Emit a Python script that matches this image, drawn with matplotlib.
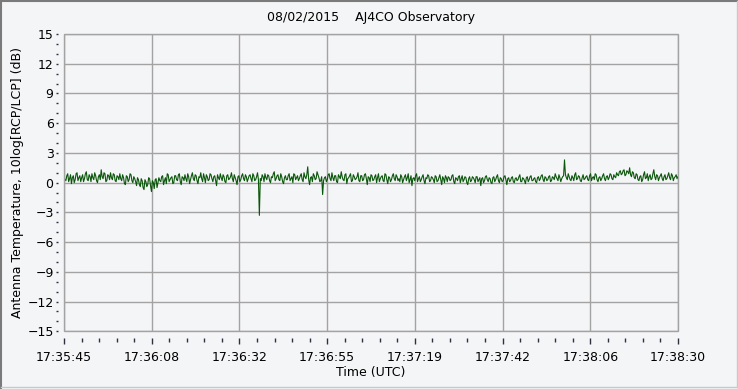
import numpy as np
import matplotlib
matplotlib.use("Agg")
import matplotlib.pyplot as plt
from matplotlib.lines import Line2D
from matplotlib.patches import Rectangle

# chart text
title = "08/02/2015    AJ4CO Observatory"
x_label = "Time (UTC)"
y_label = "Antenna Temperature, 10log[RCP/LCP] (dB)"
time_labels = ["17:35:45", "17:36:08", "17:36:32", "17:36:55",
               "17:37:19", "17:37:42", "17:38:06", "17:38:30"]
y_ticks = [-15, -12, -9, -6, -3, 0, 3, 6, 9, 12, 15]

# seconds after 17:35:45, samples every 0.25 s
span_s = 165.0
step_s = 0.25

# dB: samples on the whole half-second
ratio_db = [
    0.6, 0.2, 0.9, 0.4, -0.1, 0.7, 0.3, 1.0, 0.5, 0.1, 0.8, 0.4, 1.1, 0.2, 0.6, 0.9, 0.3, 0.7, 0.0, 0.8,
    1.3, 0.4, 0.9, 0.2, 0.7, 1.0, 0.3, 0.8, 0.1, 0.6, 0.9, 0.2, 0.5, -0.2, 0.6, 0.3, 0.8, 0.0, 0.4, -0.3,
    0.3, -0.4, 0.2, -0.7, 0.1, -0.2, 0.4, -0.9, 0.0, 0.3, -0.5, 0.5, 0.1, 0.7, 0.2, -0.1, 0.8, 0.3, 0.6, 0.0,
    0.7, 0.2, 0.9, -0.2, 0.5, 0.8, 0.1, 0.6, 0.3, 1.0, 0.2, 0.7, -0.1, 0.5, 0.4, 0.9, 0.0, 0.6, 0.3, 0.8,
    0.1, 0.7, -0.3, 0.5, 0.9, 0.2, 0.6, 0.0, 0.8, 0.4, 1.0, 0.1, 0.5, -0.2, 0.7, 0.3, 0.9, 0.2, 0.6, 0.4,
    0.8, 0.1, 0.7, 0.3, 1.0, -3.3, 0.2, 0.6, 0.9, 0.3, 0.7, 0.0, 0.5, 1.1, 0.4, 0.8, 0.2, 0.6, -0.1, 0.7,
    0.3, 0.9, 0.4, 0.0, 0.8, 0.5, 0.2, 0.7, 0.3, 1.0, 0.4, 1.6, -0.2, 0.6, 0.9, 0.3, 1.1, 0.5, 0.2, -1.2,
    0.5, 0.1, 0.8, 0.4, 1.0, 0.2, 0.7, 0.0, 0.6, 1.1, 0.3, 0.8, -0.1, 0.5, 0.9, 0.2, 0.6, 0.4, 1.0, 0.1,
    0.7, 0.3, 0.9, -0.2, 0.5, 0.8, 0.2, 0.6, 0.0, 0.9, 0.4, 0.7, 0.1, 0.8, -0.1, 0.5, 0.3, 0.9, 0.2, 0.6,
    0.4, 0.8, 0.0, 0.6, 0.2, 0.9, 0.3, -0.3, 0.5, 0.7, 0.1, 0.6, 0.3, 0.8, -0.1, 0.4, 0.7, 0.2, 0.5, 0.0,
    0.6, 0.2, 0.8, -0.2, 0.4, 0.7, 0.1, 0.5, 0.3, 0.8, -0.1, 0.4, 0.6, 0.0, 0.7, 0.3, 0.5, -0.2, 0.6, 0.2,
    0.5, 0.0, 0.6, 0.3, -0.3, 0.5, 0.2, 0.7, 0.1, 0.4, -0.1, 0.6, 0.3, 0.8, 0.0, 0.4, 0.2, 0.7, -0.2, 0.5,
    0.2, 0.6, 0.0, 0.5, 0.3, 0.8, 0.1, 0.4, -0.1, 0.6, 0.3, 0.7, 0.2, 0.5, 0.0, 0.6, 0.4, 0.8, 0.1, 0.5,
    0.3, 0.7, 0.2, 0.5, 0.9, 0.4, 0.8, 0.1, 0.6, 2.3, 0.5, 0.9, 0.3, 0.7, 0.2, 1.0, 0.4, 0.6, 0.1, 0.8,
    0.4, 0.7, 0.2, 0.9, 0.5, 0.3, 0.8, 0.1, 0.6, 0.4, 0.9, 0.2, 0.7, 0.5, 0.8, 0.3, 0.6, 1.0, 0.7, 1.2,
    0.9, 1.3, 0.8, 1.1, 1.5, 0.6, 1.0, 0.4, 0.8, 0.2, 0.7, 0.3, 1.1, 0.5, 0.2, 0.8, 0.4, 1.3, 0.3, 0.7,
    0.5, 0.9, 0.2, 0.8, 0.4, 1.0, 0.3, 0.7, 0.5, 0.8, 0.6,
]

# samples in between (quarter seconds)
ratio_db_mid = [
    0.3, 0.7, 0.1, 0.8, 0.5, 0.0, 0.9, 0.2, 0.7, 0.5, 0.1, 0.9, 0.3, 0.8, 0.1, 0.5, 1.0, 0.2, 0.6, 0.3,
    0.6, 1.0, 0.1, 0.8, 0.3, 0.5, 0.9, 0.2, 0.7, 0.3, 0.4, 0.8, -0.1, 0.7, 0.1, 0.9, 0.2, 0.6, 0.1, 0.5,
    -0.2, 0.4, -0.5, 0.3, -0.4, 0.5, -0.3, 0.2, -0.6, 0.4, 0.0, 0.2, 0.6, -0.2, 0.5, 0.9, 0.1, 0.5, -0.1, 0.7,
    0.3, 0.8, 0.1, 0.6, 0.2, 0.4, 0.9, -0.1, 0.7, 0.4, 0.8, 0.2, 0.6, 1.0, 0.1, 0.5, 0.8, 0.2, 0.9, 0.4,
    0.6, 0.2, 0.8, 0.3, 0.5, 0.8, 0.1, 0.7, 0.3, 0.6, 0.4, 0.8, 0.2, 0.6, 0.1, 0.7, 0.4, 0.8, 0.1, 0.7,
    0.4, 0.9, 0.2, 0.6, 0.3, 0.4, 0.8, 0.1, 0.5, 0.8, 0.2, 0.6, 0.9, 0.2, 0.7, 0.3, 0.9, 0.1, 0.5, 0.3,
    0.7, 0.2, 0.6, 0.9, 0.3, 0.7, 0.4, 0.9, 0.1, 0.6, 0.8, 0.3, 0.5, 0.1, 0.7, 0.4, 0.8, 0.1, 0.6, 0.2,
    0.6, 0.3, 0.9, 0.2, 0.5, 0.7, 0.1, 0.8, 0.4, 0.6, 0.2, 0.9, 0.4, 0.7, 0.1, 0.8, 0.3, 0.6, 0.2, 0.7,
    0.2, 0.8, 0.4, 0.6, 0.1, 0.7, 0.3, 0.8, 0.5, 0.1, 0.6, 0.2, 0.9, 0.3, 0.6, 0.1, 0.7, 0.4, 0.8, 0.2,
    0.1, 0.6, 0.3, 0.8, 0.5, 0.0, 0.7, 0.4, 0.2, 0.9, 0.4, 0.1, 0.6, 0.2, 0.5, 0.8, 0.1, 0.6, 0.3, 0.7,
    0.1, 0.5, 0.3, 0.6, 0.0, 0.5, 0.6, 0.2, 0.7, 0.1, 0.5, 0.2, 0.7, 0.4, 0.1, 0.6, 0.0, 0.4, 0.1, 0.6,
    0.3, 0.6, 0.1, 0.5, 0.4, 0.0, 0.6, 0.3, 0.5, 0.0, 0.5, 0.1, 0.6, 0.2, 0.5, 0.1, 0.6, 0.3, 0.4, 0.1,
    0.5, 0.1, 0.4, 0.2, 0.6, 0.1, 0.5, 0.2, 0.5, 0.1, 0.6, 0.2, 0.4, 0.1, 0.5, 0.2, 0.7, 0.3, 0.6, 0.2,
    0.6, 0.1, 0.6, 0.3, 0.6, 0.2, 0.5, 0.4, 0.7, 0.8, 0.3, 0.6, 0.2, 0.5, 0.8, 0.3, 0.7, 0.2, 0.5, 0.3,
    0.6, 0.3, 0.7, 0.2, 0.6, 0.9, 0.3, 0.5, 0.2, 0.7, 0.4, 0.6, 0.3, 0.9, 0.4, 0.8, 0.5, 0.8, 1.1, 0.8,
    1.2, 0.7, 1.2, 0.9, 0.8, 1.1, 0.5, 0.9, 0.3, 0.6, 0.1, 0.8, 0.4, 0.9, 0.6, 0.3, 0.9, 0.6, 0.8, 0.2,
    0.7, 0.4, 0.6, 0.3, 0.7, 0.5, 0.9, 0.2, 0.6, 0.4,
]

# weave the two sets of samples into one time series
trace = np.empty(len(ratio_db) + len(ratio_db_mid))
trace[0::2] = ratio_db
trace[1::2] = ratio_db_mid
t = np.arange(len(trace)) * step_s

bg = "#f4f5f7"
grid_c = "#a3a3a3"
trace_c = "#0a560a"

plt.rcParams["font.family"] = ["DejaVu Sans"]
plt.rcParams["font.size"] = 9

fig = plt.figure(figsize=(7.38, 3.89), dpi=100, facecolor=bg)
ax = fig.add_axes([64 / 738, 1 - 331.3 / 389, 614 / 738, 297.3 / 389])
ax.set_facecolor(bg)

ax.plot(t, trace, color=trace_c, lw=0.8, zorder=3)

ax.set_xlim(0, span_s)
ax.set_ylim(-15, 15)

ax.set_xticks(np.linspace(0, span_s, len(time_labels)))
ax.set_xticklabels(time_labels)
ax.set_xticks(np.linspace(0, span_s, 5 * (len(time_labels) - 1) + 1), minor=True)
ax.set_yticks(y_ticks)
ax.set_yticks(np.arange(-15, 16, 1), minor=True)

ax.grid(True, which="major", color=grid_c, lw=1.0, zorder=1)

# ticks sit apart from the frame, like the original
for side in ("top", "right", "bottom", "left"):
    ax.spines[side].set_visible(False)
ax.spines["bottom"].set_position(("outward", 5))
ax.spines["left"].set_position(("outward", 4))
ax.tick_params(axis="x", which="major", length=4.5, width=1, color="#303040", pad=5)
ax.tick_params(axis="x", which="minor", length=3, width=1, color="#303040")
ax.tick_params(axis="y", which="both", length=1.5, width=1, color="#303040", pad=2)

ax.add_patch(Rectangle((0, 0), 1, 1, transform=ax.transAxes, fill=False,
                       edgecolor=grid_c, lw=1.0, clip_on=False, zorder=4))

ax.set_xlabel(x_label, labelpad=1)
ax.set_ylabel(y_label, labelpad=2)
fig.text(371 / 738, 1 - 18 / 389, title, ha="center", va="center", fontsize=9)

# window border
fig.add_artist(Line2D([0.002, 0.998], [0.997, 0.997], color="#7a7a7a", lw=1.5))
fig.add_artist(Line2D([0.002, 0.002], [0.003, 0.997], color="#7a7a7a", lw=1.5))
fig.add_artist(Line2D([0.002, 0.998], [0.004, 0.004], color="#c8c8c8", lw=1.0))
fig.add_artist(Line2D([0.998, 0.998], [0.004, 0.997], color="#c8c8c8", lw=1.0))

fig.savefig("out.png", dpi=100, facecolor=bg)
